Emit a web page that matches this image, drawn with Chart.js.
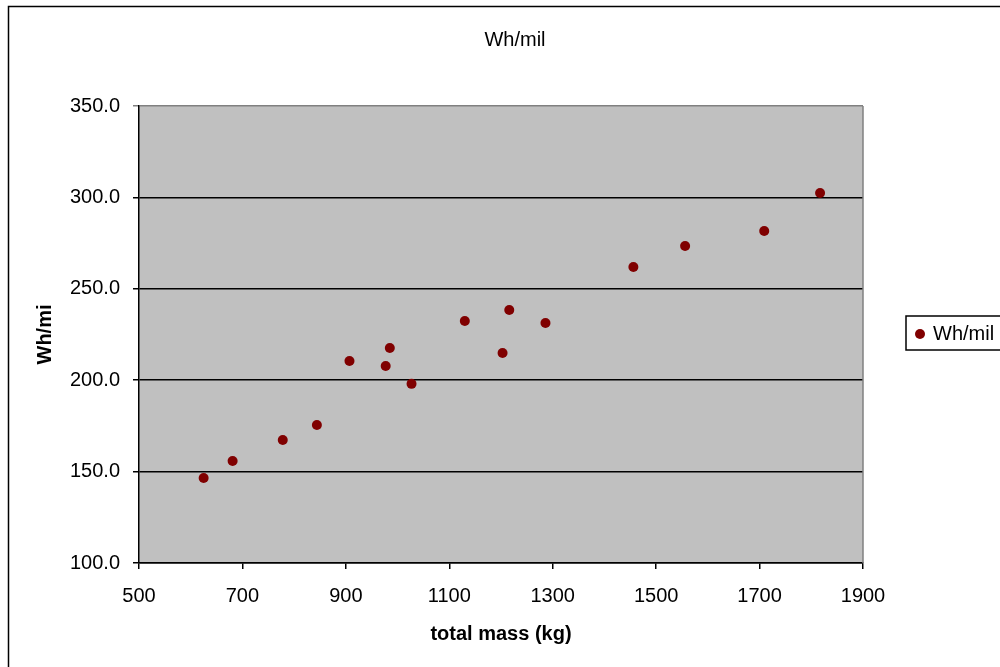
<!DOCTYPE html>
<html>
<head>
<meta charset="utf-8">
<script src="https://cdn.jsdelivr.net/npm/chart.js@4"></script>
<style>
  html, body { margin: 0; padding: 0; background: #fff; }
  #wrap { width: 1000px; height: 667px; }
</style>
</head>
<body>
<div id="wrap"><canvas id="chart" width="1000" height="667"></canvas></div>
<script>
const massKg = [625, 681, 778, 844, 907, 977, 985, 1027, 1130, 1203, 1216, 1286, 1456, 1556, 1709, 1817];
const whPerMile = [146.5, 155.8, 167.3, 175.5, 210.5, 207.8, 217.6, 198.0, 232.4, 214.9, 238.4, 231.3, 261.9, 273.4, 281.6, 302.4];
const chartTitle = "Wh/mil";
const seriesName = "Wh/mil";
const xTitle = "total mass (kg)";
const yTitle = "Wh/mi";

const FONT = "'Liberation Sans', Arial, sans-serif";

const points = massKg.map((m, i) => ({ x: m, y: whPerMile[i] }));

const frame = {
    id: "frame",
    beforeDraw(chart) {
        const { ctx, chartArea: a } = chart;
        ctx.save();
        ctx.fillStyle = "#fff";
        ctx.fillRect(0, 0, chart.width, chart.height);
        ctx.fillStyle = "#c0c0c0";
        ctx.fillRect(a.left, a.top, a.right - a.left, a.bottom - a.top);
        ctx.restore();
    },
    afterDraw(chart) {
        const { ctx, chartArea: a } = chart;
        ctx.save();
        // right edge of the plot area
        ctx.strokeStyle = "#808080";
        ctx.lineWidth = 1.5;
        ctx.beginPath();
        ctx.moveTo(a.right, a.top);
        ctx.lineTo(a.right, a.bottom);
        ctx.stroke();

        // outer chart border
        ctx.strokeStyle = "#000";
        ctx.lineWidth = 1.5;
        ctx.strokeRect(8.5, 6.5, 1100, 1100);

        // title
        ctx.fillStyle = "#000";
        ctx.font = "20px " + FONT;
        ctx.textAlign = "center";
        ctx.textBaseline = "middle";
        ctx.fillText(chartTitle, 515, 40);

        // legend
        ctx.lineWidth = 1.5;
        ctx.strokeRect(906, 316, 120, 34);
        ctx.fillStyle = "#800000";
        ctx.beginPath();
        ctx.arc(920, 334, 5, 0, Math.PI * 2);
        ctx.fill();
        ctx.fillStyle = "#000";
        ctx.textAlign = "left";
        ctx.fillText(chart.data.datasets[0].label, 933, 334);
        ctx.restore();
    }
};

new Chart(document.getElementById("chart"), {
    type: "scatter",
    data: {
        datasets: [{
            label: seriesName,
            data: points,
            backgroundColor: "#800000",
            borderColor: "#800000",
            borderWidth: 0,
            pointRadius: 5,
            pointHoverRadius: 5
        }]
    },
    options: {
        responsive: false,
        animation: false,
        layout: { padding: { left: 0, top: 106, right: 137, bottom: 0 } },
        plugins: {
            legend: { display: false },
            title: { display: false },
            tooltip: { enabled: false }
        },
        scales: {
            x: {
                type: "linear",
                min: 500,
                max: 1900,
                afterFit(scale) { scale.height = 104; },
                ticks: {
                    stepSize: 200,
                    color: "#000",
                    padding: 15,
                    font: { family: FONT, size: 20 },
                    maxRotation: 0,
                    callback: v => String(v)
                },
                grid: {
                    drawOnChartArea: false,
                    drawTicks: true,
                    tickLength: 6,
                    color: "#000",
                    lineWidth: 1.5
                },
                border: { display: true, color: "#000", width: 1.5 },
                title: {
                    display: true,
                    text: xTitle,
                    color: "#000",
                    font: { family: FONT, size: 20, weight: "bold" },
                    padding: { top: 0, bottom: 21 }
                }
            },
            y: {
                type: "linear",
                min: 100,
                max: 350,
                afterFit(scale) { scale.width = 139; },
                ticks: {
                    stepSize: 50,
                    color: "#000",
                    padding: 13,
                    font: { family: FONT, size: 20 },
                    callback: v => v.toFixed(1)
                },
                grid: {
                    drawTicks: true,
                    tickLength: 6,
                    color: ctx => (ctx.tick && ctx.tick.value === 350 ? "#808080" : "#000"),
                    lineWidth: 1.5
                },
                border: { display: true, color: "#000", width: 1.5 },
                title: {
                    display: true,
                    text: yTitle,
                    color: "#000",
                    font: { family: FONT, size: 20, weight: "bold" },
                    padding: { top: 33, bottom: 0 }
                }
            }
        }
    },
    plugins: [frame]
});
</script>
</body>
</html>
